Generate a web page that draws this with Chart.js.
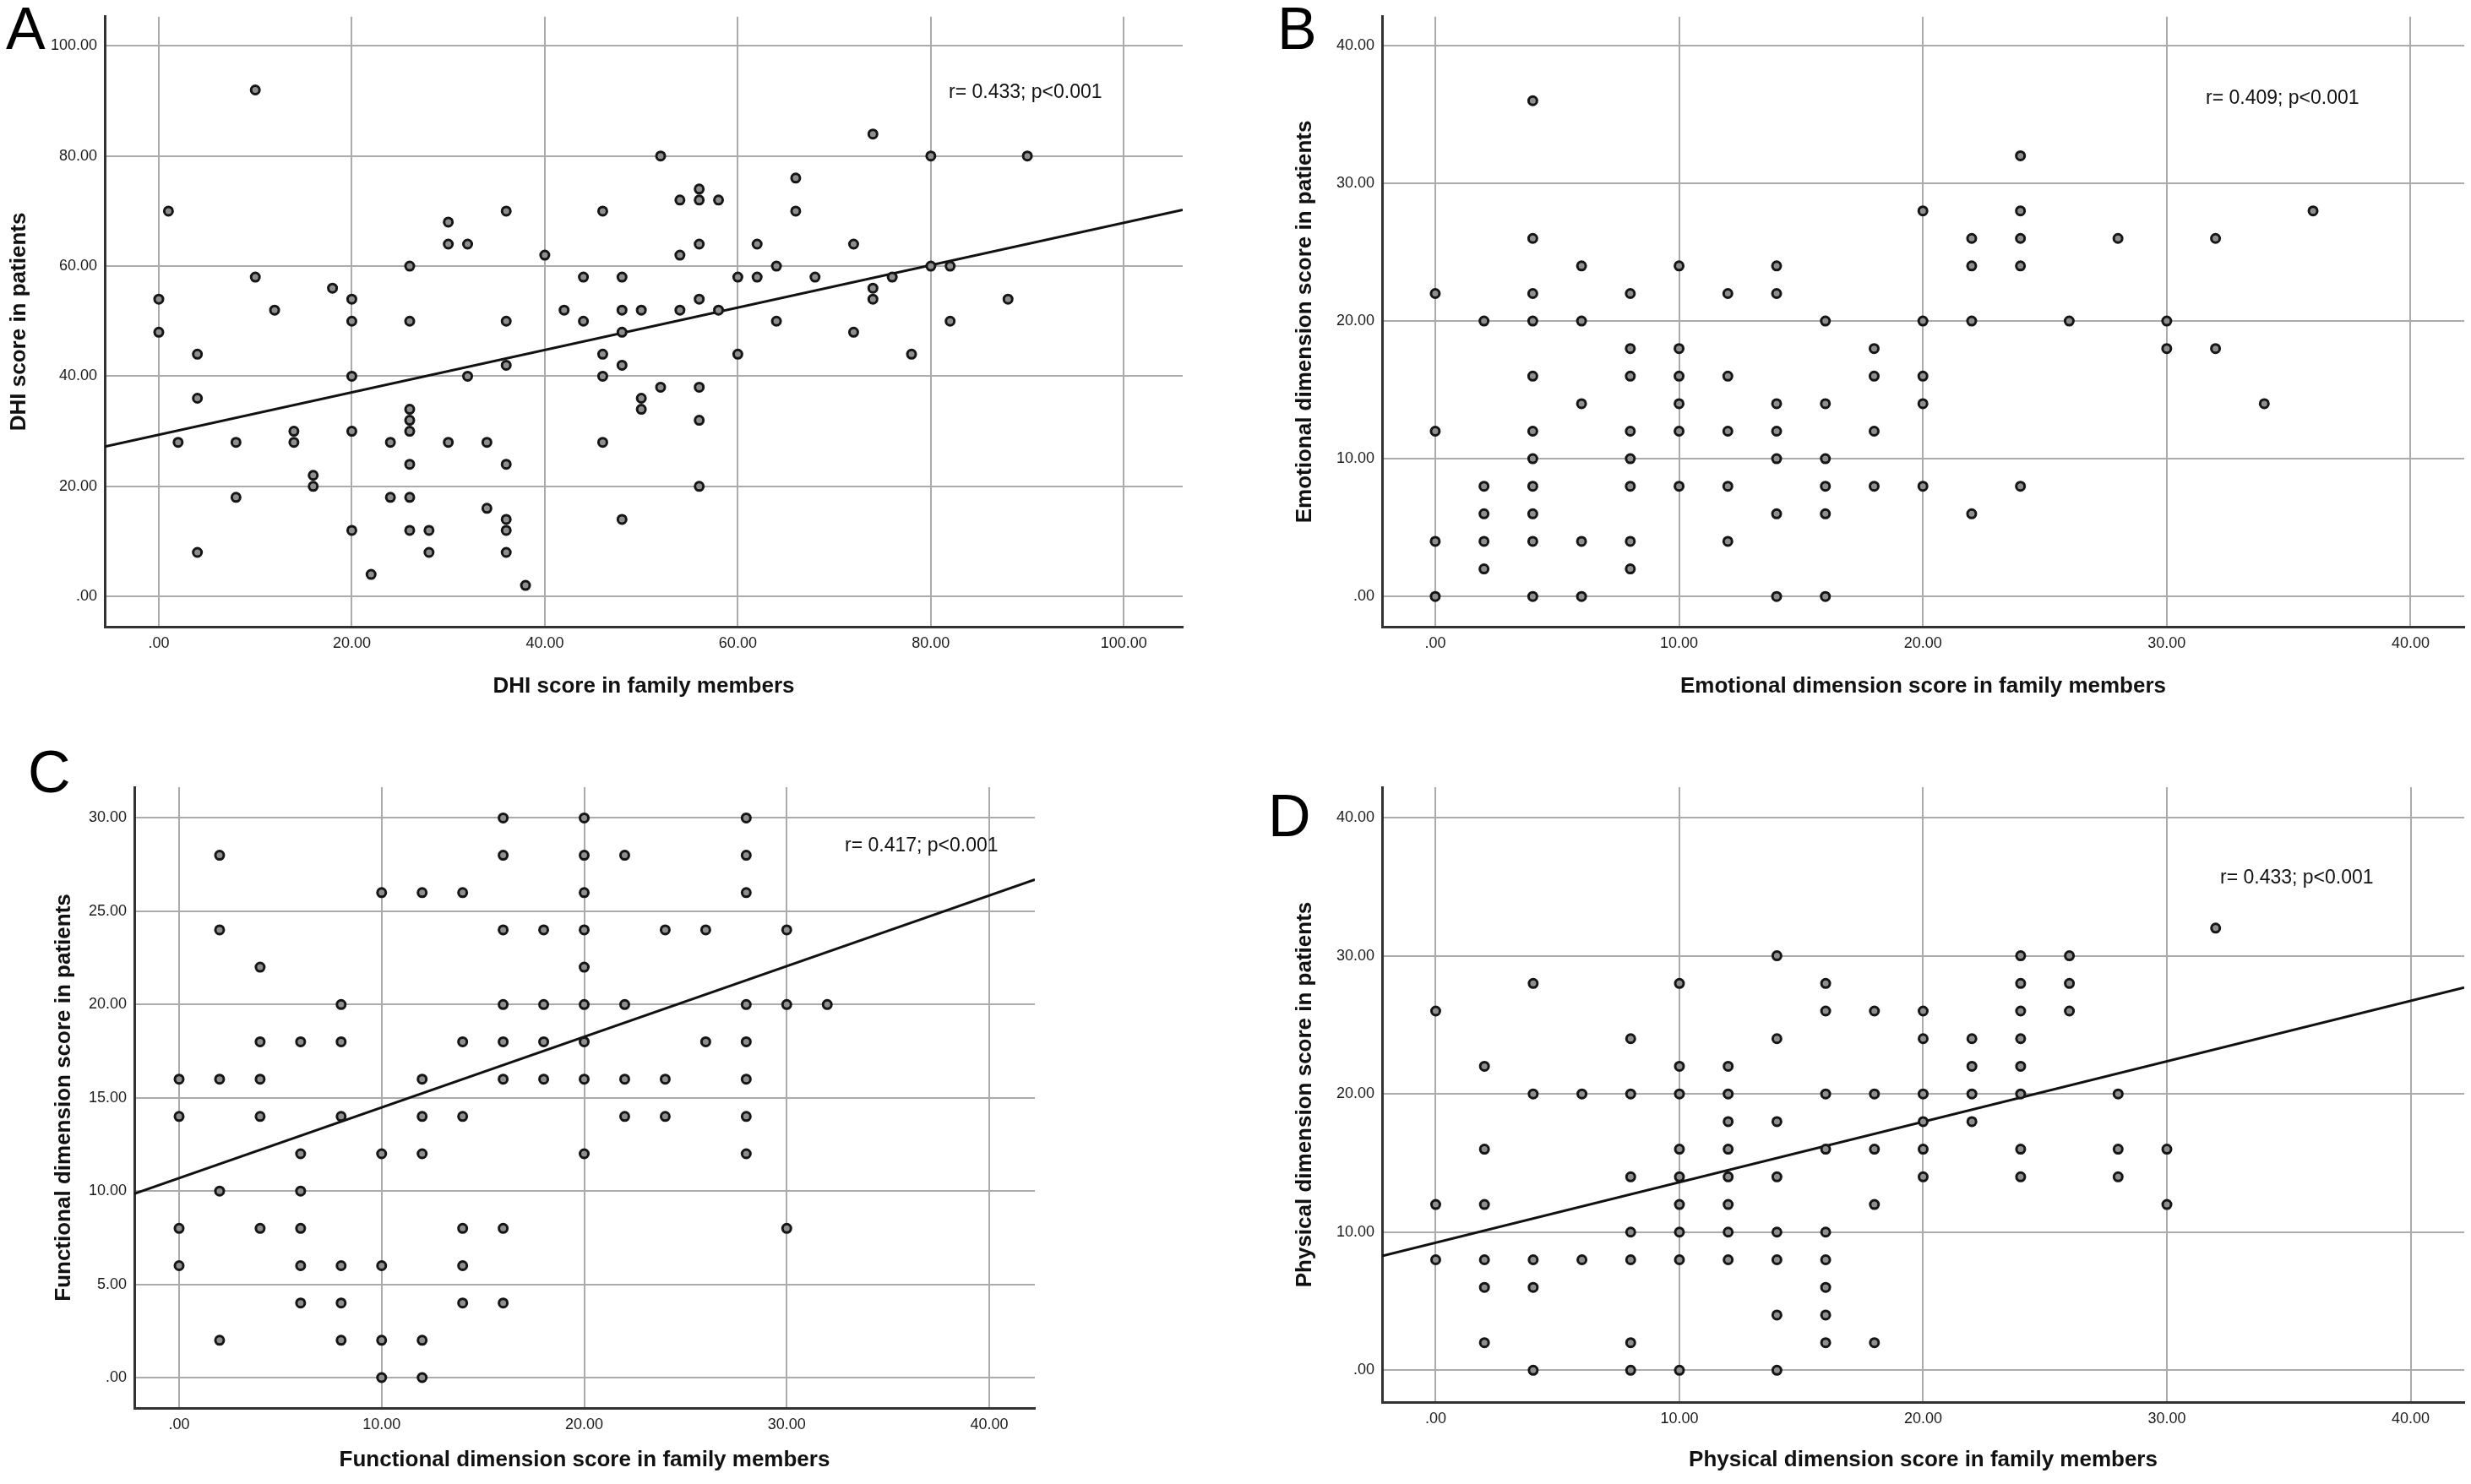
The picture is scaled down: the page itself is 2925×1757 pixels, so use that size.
<!DOCTYPE html>
<html>
<head>
<meta charset="utf-8">
<script src="https://cdn.jsdelivr.net/npm/chart.js@4.4.1/dist/chart.umd.min.js"></script>
<style>
  html, body { margin: 0; padding: 0; background: #fff; }
  #page { position: relative; width: 2925px; height: 1757px; overflow: hidden; background: #fff; }
  canvas { position: absolute; }
  .letter { position: absolute; font-family: "Liberation Sans", Arial, sans-serif; font-size: 70px; line-height: 70px; color: #000; }
  .note { position: absolute; font-family: "Liberation Sans", Arial, sans-serif; font-size: 23px; line-height: 24px; color: #111; white-space: nowrap; }
</style>
</head>
<body>
<div id="page">
  <canvas id="chartA"></canvas>
  <canvas id="chartB"></canvas>
  <canvas id="chartC"></canvas>
  <canvas id="chartD"></canvas>

  <div class="letter" style="left:7px;top:-1px;">A</div>
  <div class="letter" style="left:1512px;top:-1px;">B</div>
  <div class="letter" style="left:33px;top:879px;">C</div>
  <div class="letter" style="left:1501px;top:931px;">D</div>

  <div class="note" style="left:1123px;top:96px;">r= 0.433; p&lt;0.001</div>
  <div class="note" style="left:2611px;top:103px;">r= 0.409; p&lt;0.001</div>
  <div class="note" style="left:1000px;top:988px;">r= 0.417; p&lt;0.001</div>
  <div class="note" style="left:2628px;top:1026px;">r= 0.433; p&lt;0.001</div>
</div>

<script>
// A - DHI total score
const aFamily = [10,1,0,0,2,4,4,4,8,8,10,12,14,14,16,16,18,20,20,20,20,20,22,24,24,
  26,26,26,26,26,26,26,26,28,28,30,30,30,32,32,34,34,36,36,36,36,36,36,36,38,40,42,44,44,
  46,46,46,46,48,48,48,48,48,50,50,50,52,52,54,54,54,56,56,56,56,56,56,56,58,58,60,60,
  62,62,64,64,66,66,68,72,72,74,74,74,76,78,80,80,82,82,88,90];
const aPatients = [92,70,54,48,28,44,36,8,28,18,58,52,30,28,22,20,56,54,50,40,30,12,4,28,18,
  60,50,34,32,30,24,18,12,12,8,68,64,28,64,40,28,16,70,50,42,24,14,12,8,2,62,52,58,50,
  70,44,40,28,58,52,48,42,14,52,36,34,80,38,72,62,52,74,72,64,54,38,32,20,72,52,58,44,
  64,58,60,50,76,70,58,64,48,84,56,54,58,44,80,60,60,50,54,80];
const aFitX = [-5.6, 106.1];
const aFitY = [27.2, 70.2];

// B - emotional dimension
const bFamily = [4,0,0,0,0,2,2,2,2,2,4,4,4,4,4,4,4,4,4,4,6,6,6,6,6,8,8,8,8,8,8,8,8,
  10,10,10,10,10,10,12,12,12,12,12,14,14,14,14,14,14,14,16,16,16,16,16,16,18,18,18,18,
  20,20,20,20,20,22,22,22,22,24,24,24,24,24,26,28,30,30,32,32,34,36];
const bPatients = [36,22,12,4,0,20,8,6,4,2,26,22,20,16,12,10,8,6,4,0,24,20,14,4,0,22,18,16,12,10,8,4,2,
  24,18,16,14,12,8,22,16,12,8,4,24,22,14,12,10,6,0,20,14,10,8,6,0,18,16,12,8,
  28,20,16,14,8,26,24,20,6,32,28,26,24,8,20,26,20,18,26,18,14,28];

// C - functional dimension
const cFamily = [0,0,0,0,2,2,2,2,2,4,4,4,4,4,6,6,6,6,6,6,8,8,8,8,8,8,10,10,10,10,10,
  12,12,12,12,12,12,14,14,14,14,14,14,16,16,16,16,16,16,16,16,18,18,18,18,
  20,20,20,20,20,20,20,20,20,22,22,22,22,24,24,24,26,26,28,28,28,28,28,28,28,28,30,30,30,32];
const cPatients = [16,14,8,6,28,24,16,10,2,22,18,16,14,8,18,12,10,8,6,4,20,18,14,6,4,2,26,12,6,2,0,
  26,16,14,12,2,0,26,18,14,8,6,4,30,28,24,20,18,16,8,4,24,20,18,16,
  30,28,26,24,22,20,18,16,12,28,20,16,14,24,16,14,24,18,30,28,26,20,18,16,14,12,24,20,8,20];
const cFitX = [-2.21, 42.25];
const cFitY = [9.86, 26.7];

// D - physical dimension
const dFamily = [0,0,0,2,2,2,2,2,2,4,4,4,4,4,6,6,8,8,8,8,8,8,8,
  10,10,10,10,10,10,10,10,10,12,12,12,12,12,12,12,12,14,14,14,14,14,14,14,14,
  16,16,16,16,16,16,16,16,16,18,18,18,18,18,20,20,20,20,20,20,22,22,22,22,
  24,24,24,24,24,24,24,24,26,26,26,28,28,28,30,30,32];
const dPatients = [26,12,8,22,16,12,8,6,2,28,20,8,6,0,20,8,24,20,14,10,8,2,0,
  28,22,20,16,14,12,10,8,0,22,20,18,16,14,12,10,8,30,24,18,14,10,8,4,0,
  28,26,20,16,10,8,6,4,2,26,20,16,12,2,26,24,20,18,16,14,24,22,20,18,
  30,28,26,24,22,20,16,14,30,28,26,20,16,14,16,12,32];
const dFitX = [-2.2, 42.2];
const dFitY = [8.27, 27.7];

const ticks0to100 = [0, 20, 40, 60, 80, 100];
const ticks0to40 = [0, 10, 20, 30, 40];
const ticks0to30 = [0, 5, 10, 15, 20, 25, 30];

const FONT = '"Liberation Sans", Arial, sans-serif';
const TITLE_SIZE = 26;
const LH = TITLE_SIZE * 1.2;

function fmt(v) {
  return v === 0 ? '.00' : v.toFixed(2);
}

function makePanel(p) {
  const canvas = document.getElementById(p.id);
  const box = p.box, area = p.area;
  canvas.width = box.w;
  canvas.height = box.h;
  canvas.style.left = box.x + 'px';
  canvas.style.top = box.y + 'px';
  canvas.style.width = box.w + 'px';
  canvas.style.height = box.h + 'px';

  const padLeft = p.yTitleX - box.x - LH / 2;
  const yWidth = area.l - box.x - padLeft;
  const xHeight = p.xTitleY + LH / 2 - area.b;
  const padBottom = box.y + box.h - area.b - xHeight;

  const datasets = [{
    data: p.xs.map((x, i) => ({x: x, y: p.ys[i]})),
    pointRadius: 5,
    pointBorderWidth: 3,
    pointBackgroundColor: '#8f8f8f',
    pointBorderColor: '#151515',
    showLine: false
  }];
  if (p.fitX) {
    datasets.push({
      data: p.fitX.map((x, i) => ({x: x, y: p.fitY[i]})),
      showLine: true,
      pointRadius: 0,
      borderColor: '#111',
      borderWidth: 3,
      fill: false
    });
  }

  const axis = (range, tickVals, label, isX) => ({
    type: 'linear',
    min: range[0],
    max: range[1],
    afterBuildTicks: s => { s.ticks = tickVals.map(v => ({value: v})); },
    afterFit: s => { if (isX) s.height = xHeight; else s.width = yWidth; },
    grid: {color: '#ababab', lineWidth: 2, drawTicks: false},
    border: {display: true, color: '#333', width: 3},
    ticks: {
      callback: v => fmt(v),
      font: {family: FONT, size: 18},
      color: '#1a1a1a',
      padding: 9,
      maxRotation: 0,
      autoSkip: false
    },
    title: {
      display: true,
      text: label,
      font: {family: FONT, size: TITLE_SIZE, weight: 'bold'},
      color: '#111',
      padding: {top: 0, bottom: 0}
    }
  });

  new Chart(canvas, {
    type: 'scatter',
    data: {datasets: datasets},
    options: {
      responsive: false,
      animation: false,
      devicePixelRatio: 1,
      layout: {padding: {left: padLeft, right: box.x + box.w - area.r, top: area.t - box.y, bottom: padBottom}},
      plugins: {legend: {display: false}, tooltip: {enabled: false}},
      scales: {
        x: axis(p.xRange, p.xTicks, p.xLabel, true),
        y: axis(p.yRange, p.yTicks, p.yLabel, false)
      }
    }
  });
}

try {
  makePanel({
    id: 'chartA', box: {x: 0, y: 0, w: 1460, h: 870}, area: {l: 124, t: 17, r: 1400, b: 742},
    yTitleX: 23, xTitleY: 813,
    xs: aFamily, ys: aPatients, fitX: aFitX, fitY: aFitY,
    xRange: [-5.6, 106.1], yRange: [-5.5, 105.3], xTicks: ticks0to100, yTicks: ticks0to100,
    xLabel: 'DHI score in family members', yLabel: 'DHI score in patients'
  });
  makePanel({
    id: 'chartB', box: {x: 1460, y: 0, w: 1465, h: 870}, area: {l: 1636, t: 17, r: 2920, b: 742},
    yTitleX: 1545, xTitleY: 813,
    xs: bFamily, ys: bPatients,
    xRange: [-2.18, 42.2], yRange: [-2.2, 42.1], xTicks: ticks0to40, yTicks: ticks0to40,
    xLabel: 'Emotional dimension score in family members', yLabel: 'Emotional dimension score in patients'
  });
  makePanel({
    id: 'chartC', box: {x: 0, y: 870, w: 1460, h: 887}, area: {l: 159, t: 932, r: 1225, b: 1667},
    yTitleX: 76, xTitleY: 1729,
    xs: cFamily, ys: cPatients, fitX: cFitX, fitY: cFitY,
    xRange: [-2.21, 42.25], yRange: [-1.63, 31.65], xTicks: ticks0to40, yTicks: ticks0to30,
    xLabel: 'Functional dimension score in family members', yLabel: 'Functional dimension score in patients'
  });
  makePanel({
    id: 'chartD', box: {x: 1460, y: 870, w: 1465, h: 887}, area: {l: 1636, t: 932, r: 2920, b: 1660},
    yTitleX: 1545, xTitleY: 1729,
    xs: dFamily, ys: dPatients, fitX: dFitX, fitY: dFitY,
    xRange: [-2.2, 42.2], yRange: [-2.3, 42.2], xTicks: ticks0to40, yTicks: ticks0to40,
    xLabel: 'Physical dimension score in family members', yLabel: 'Physical dimension score in patients'
  });
} catch (e) {
  console.log('chart error', e);
}
</script>
</body>
</html>
